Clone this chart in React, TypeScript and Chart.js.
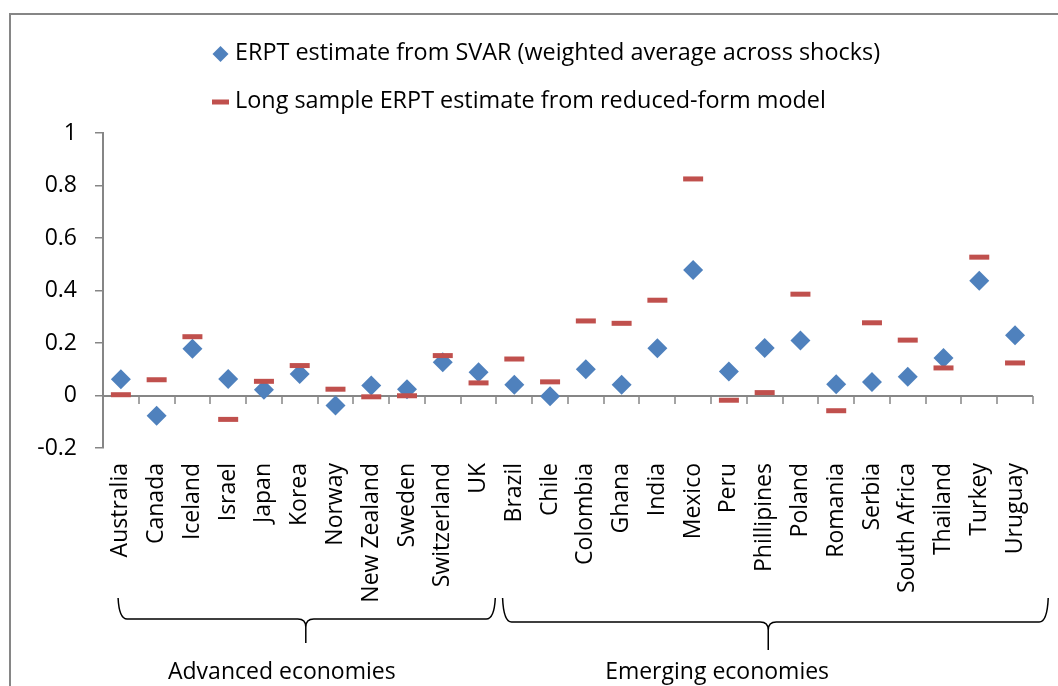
import React, { useEffect, useRef } from 'react';
import { Chart, registerables } from 'chart.js';

Chart.register(...registerables);

const categories = [
  'Australia', 'Canada', 'Iceland', 'Israel', 'Japan', 'Korea', 'Norway', 'New Zealand', 'Sweden', 'Switzerland', 'UK',
  'Brazil', 'Chile', 'Colombia', 'Ghana', 'India', 'Mexico', 'Peru', 'Phillipines', 'Poland', 'Romania', 'Serbia',
  'South Africa', 'Thailand', 'Turkey', 'Uruguay',
];
const svarEstimates = [
  0.062, -0.077, 0.178, 0.063, 0.022, 0.082, -0.038, 0.038, 0.024, 0.127, 0.089,
  0.041, -0.003, 0.1, 0.041, 0.18, 0.478, 0.091, 0.181, 0.21, 0.043, 0.051, 0.071, 0.143, 0.437, 0.23,
];
const reducedFormEstimates = [
  0.003, 0.06, 0.224, -0.091, 0.054, 0.114, 0.024, -0.005, -0.001, 0.152, 0.048,
  0.139, 0.052, 0.284, 0.275, 0.363, 0.825, -0.018, 0.011, 0.386, -0.058, 0.277, 0.211, 0.105, 0.527, 0.124,
];
const yTickLabels = ['-0.2', '0', '0.2', '0.4', '0.6', '0.8', '1'];
const seriesLabels = [
  'ERPT estimate from SVAR (weighted average across shocks)',
  'Long sample ERPT estimate from reduced-form model',
];
const groupLabels = ['Advanced economies', 'Emerging economies'];

const FONT = '"Open Sans", Lato, sans-serif';
const BLUE = '#4F81BD';
const RED = '#C0504D';
const GREY = '#868686';

const decorPlugin = {
  id: 'decor',
  beforeDraw(chart: any) {
    const { ctx, width, height } = chart;
    ctx.save();
    ctx.fillStyle = '#ffffff';
    ctx.fillRect(0, 0, width, height);
    ctx.strokeStyle = GREY;
    ctx.lineWidth = 2;
    ctx.beginPath();
    ctx.moveTo(10, height + 5);
    ctx.lineTo(10, 14);
    ctx.lineTo(width + 5, 14);
    ctx.stroke();
    ctx.restore();
  },
  beforeDatasetsDraw(chart: any) {
    const { ctx, chartArea, scales } = chart;
    const y0 = Math.round(scales.y.getPixelForValue(0));
    ctx.save();
    ctx.strokeStyle = GREY;
    ctx.lineWidth = 2;
    ctx.beginPath();
    ctx.moveTo(chartArea.left, y0);
    ctx.lineTo(chartArea.right, y0);
    ctx.stroke();
    ctx.lineWidth = 1.5;
    ctx.beginPath();
    for (let i = 0; i <= categories.length; i++) {
      const x = Math.round(scales.x.getPixelForValue(i - 0.5));
      ctx.moveTo(x, y0);
      ctx.lineTo(x, y0 + 8);
    }
    ctx.stroke();
    ctx.restore();
  },
  afterDraw(chart: any) {
    const { ctx, scales } = chart;
    const xs = scales.x;
    ctx.save();
    // legend
    ctx.font = `23.4px ${FONT}`;
    ctx.textBaseline = 'middle';
    ctx.textAlign = 'left';
    ctx.fillStyle = BLUE;
    ctx.beginPath();
    ctx.moveTo(220.5, 46);
    ctx.lineTo(228.5, 54);
    ctx.lineTo(220.5, 62);
    ctx.lineTo(212.5, 54);
    ctx.closePath();
    ctx.fill();
    ctx.fillStyle = '#000';
    ctx.fillText(seriesLabels[0], 235, 53);
    ctx.fillStyle = RED;
    ctx.fillRect(212, 99.5, 17, 5);
    ctx.fillStyle = '#000';
    ctx.fillText(seriesLabels[1], 235, 101);

    // braces
    ctx.strokeStyle = '#000';
    ctx.lineWidth = 1.5;
    const brace = (a: number, b: number, m: number, yTop: number, yH: number, yTip: number) => {
      const xa = xs.getPixelForValue(a);
      const xb = xs.getPixelForValue(b);
      const xm = xs.getPixelForValue(m);
      ctx.beginPath();
      ctx.moveTo(xa - 1, yTop);
      ctx.quadraticCurveTo(xa, yH, xa + 8, yH);
      ctx.lineTo(xm - 8, yH);
      ctx.quadraticCurveTo(xm, yH, xm, yH + 8);
      ctx.lineTo(xm, yTip);
      ctx.moveTo(xm, yH + 8);
      ctx.quadraticCurveTo(xm, yH, xm + 8, yH);
      ctx.lineTo(xb - 8, yH);
      ctx.quadraticCurveTo(xb, yH, xb + 1, yTop);
      ctx.stroke();
    };
    brace(-0.05, 10.44, 5.17, 598, 619, 643);
    brace(10.7, 25.9, 18.1, 598, 622, 650);

    ctx.font = `23px ${FONT}`;
    ctx.fillStyle = '#000';
    ctx.textAlign = 'center';
    ctx.textBaseline = 'middle';
    ctx.fillText(groupLabels[0], xs.getPixelForValue(4.5), 672);
    ctx.fillText(groupLabels[1], xs.getPixelForValue(16.67), 672);
    ctx.restore();
  },
};

export default function App() {
  const canvasRef = useRef<HTMLCanvasElement | null>(null);

  useEffect(() => {
    if (!canvasRef.current) return;
    const chart = new Chart(canvasRef.current, {
      type: 'line',
      data: {
        labels: categories,
        datasets: [
          {
            label: seriesLabels[0],
            data: svarEstimates,
            showLine: false,
            pointStyle: 'rectRot',
            pointRadius: 10,
            pointHoverRadius: 10,
            pointBackgroundColor: BLUE,
            pointBorderColor: BLUE,
            pointBorderWidth: 0,
            order: 1,
          },
          {
            label: seriesLabels[1],
            data: reducedFormEstimates,
            showLine: false,
            pointStyle: 'line',
            pointRadius: 10,
            pointHoverRadius: 10,
            pointBorderColor: RED,
            pointBackgroundColor: RED,
            pointBorderWidth: 5,
            order: 0,
          },
        ],
      },
      options: {
        animation: false,
        responsive: false,
        devicePixelRatio: 1,
        layout: { padding: { left: 0, top: 133, right: 19, bottom: 0 } },
        plugins: { legend: { display: false }, tooltip: { enabled: false } },
        scales: {
          x: {
            type: 'category',
            position: 'bottom',
            offset: true,
            grid: { display: false, drawTicks: false },
            border: { display: false },
            ticks: {
              autoSkip: false,
              minRotation: 90,
              maxRotation: 90,
              padding: 15,
              color: '#000',
              font: { family: FONT, size: 23 },
            },
            afterFit: (scale: any) => {
              scale.height = 238;
            },
          },
          y: {
            min: -0.2,
            max: 1,
            ticks: {
              stepSize: 0.2,
              padding: 18,
              color: '#000',
              font: { family: FONT, size: 23 },
              callback: (_v: any, i: number) => yTickLabels[i],
            },
            grid: { drawOnChartArea: false, drawTicks: true, tickLength: 8, color: GREY, lineWidth: 1.5 },
            border: { display: true, color: GREY, width: 2 },
            afterFit: (scale: any) => {
              scale.width = 103;
            },
          },
        },
      },
      plugins: [decorPlugin],
    });
    return () => chart.destroy();
  }, []);

  return (
    <div style={{ position: 'absolute', left: 0, top: 0, width: 1058, height: 686, overflow: 'hidden' }}>
      <canvas ref={canvasRef} width={1058} height={686} style={{ display: 'block', width: 1058, height: 686 }} />
    </div>
  );
}
